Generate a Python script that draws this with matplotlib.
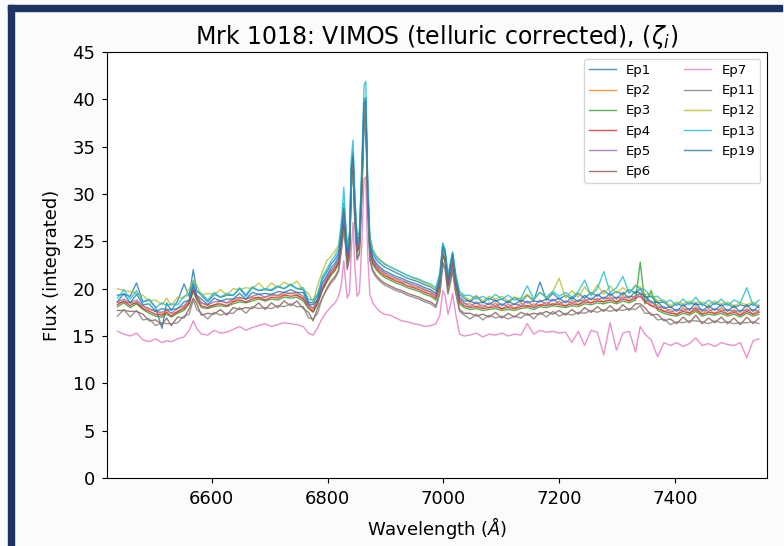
import matplotlib.pyplot as plt
from matplotlib.patches import Rectangle

# wavelength grid (Angstrom)
wave = [6437, 6448, 6459, 6470, 6481, 6492, 6503, 6514, 6522, 6530,
        6541, 6552, 6561, 6568, 6574, 6582, 6593, 6604, 6615, 6626,
        6637, 6648, 6659, 6670, 6681, 6692, 6703, 6714, 6725, 6736,
        6747, 6758, 6767, 6775, 6783, 6791, 6799,
        6806, 6813, 6819, 6824, 6828, 6831, 6834, 6838, 6841, 6844,
        6847, 6851, 6855, 6859, 6863, 6866, 6869, 6873, 6878, 6884, 6890,
        6898, 6908, 6918, 6928, 6938, 6948, 6958, 6968, 6978, 6987,
        6994, 6999, 7003, 7008, 7012, 7016, 7021, 7028, 7036,
        7046, 7057, 7068, 7079, 7090, 7101, 7112, 7123, 7134, 7145,
        7156, 7167, 7178, 7189, 7200, 7211, 7222, 7233, 7244, 7255,
        7266, 7277, 7288, 7299, 7310, 7321, 7332, 7340, 7348, 7359,
        7370, 7381, 7392, 7403, 7414, 7425, 7436, 7447, 7458, 7469,
        7480, 7491, 7502, 7513, 7524, 7535, 7545]

ep1 = [19.3, 19.4, 19.2, 20.6, 18.6, 18.8, 18.0, 15.8, 18.5, 17.7,
       18.7, 20.5, 19.2, 22.0, 19.8, 19.3, 18.6, 19.4, 19.1, 19.3,
       19.3, 20.0, 19.2, 20.1, 19.8, 19.9, 19.8, 20.2, 20.0, 20.4,
       20.0, 19.9, 18.6, 18.5, 19.3, 21.0, 21.8,
       22.6, 23.1, 23.8, 26.4, 29.0, 26.6, 24.0, 25.4, 33.0, 34.5,
       29.4, 25.0, 25.6, 32.0, 40.0, 40.2, 31.5, 25.0, 23.7, 23.1, 22.7,
       22.3, 22.0, 21.7, 21.4, 21.1, 20.9, 20.7, 20.4, 20.2, 19.8,
       21.5, 24.8, 24.0, 21.2, 22.5, 23.8, 21.4, 19.4, 19.0,
       18.6, 19.2, 18.5, 19.0, 18.7, 18.9, 18.5, 19.1, 18.6, 19.3,
       18.7, 20.7, 18.8, 19.5, 18.9, 19.3, 18.9, 19.5, 19.0, 19.6,
       19.2, 19.8, 19.3, 19.7, 19.4, 19.9, 19.5, 20.0, 19.1, 19.2,
       18.5, 18.6, 18.0, 18.4, 18.2, 18.5, 18.3, 18.4, 18.0, 18.5,
       18.2, 18.4, 18.0, 18.3, 18.1, 18.4, 18.0]

ep2 = [18.5, 18.6, 18.5, 18.4, 18.1, 17.8, 17.6, 17.3, 17.7, 17.4,
       17.5, 18.1, 18.7, 20.1, 19.1, 18.5, 18.2, 18.2, 18.7, 18.5,
       18.7, 19.0, 18.9, 19.1, 19.0, 19.1, 19.3, 19.2, 19.4, 19.5,
       19.4, 19.0, 18.3, 17.9, 18.7, 20.1, 21.0,
       21.8, 22.3, 23.0, 25.2, 27.5, 25.7, 23.2, 24.5, 31.6, 33.4,
       28.2, 24.2, 24.8, 30.6, 38.7, 39.0, 30.2, 24.2, 23.0, 22.4, 22.0,
       21.6, 21.2, 21.0, 20.7, 20.6, 20.2, 20.1, 19.8, 19.6, 19.2,
       20.6, 23.7, 23.1, 20.6, 21.7, 23.0, 20.8, 18.8, 18.4,
       18.4, 18.1, 18.3, 18.0, 18.5, 17.8, 18.4, 17.9, 18.5, 18.1,
       18.4, 18.2, 18.6, 18.2, 18.7, 18.1, 18.8, 18.3, 18.9, 18.5,
       19.0, 18.6, 19.2, 18.5, 19.3, 18.7, 19.3, 19.4, 19.0, 18.2,
       18.3, 17.6, 17.8, 17.2, 18.0, 17.4, 18.1, 17.3, 17.9, 17.3,
       18.0, 17.3, 17.8, 17.2, 17.9, 17.3, 17.8]

ep3 = [18.1, 18.5, 18.0, 18.4, 17.8, 17.4, 17.1, 17.0, 17.3, 17.0,
       17.4, 17.7, 18.4, 19.7, 18.8, 18.0, 17.9, 18.1, 18.2, 18.1,
       18.4, 18.6, 18.5, 18.7, 18.9, 18.7, 18.9, 18.8, 19.1, 19.0,
       19.1, 18.7, 17.9, 17.5, 18.4, 19.8, 20.7,
       21.4, 21.9, 22.6, 24.8, 27.3, 25.3, 22.8, 24.0, 31.3, 33.2,
       27.8, 23.8, 24.4, 30.3, 38.6, 38.9, 29.8, 23.8, 22.6, 22.0, 21.6,
       21.2, 20.9, 20.6, 20.4, 20.1, 19.9, 19.7, 19.4, 19.2, 18.8,
       20.3, 23.5, 22.8, 20.2, 21.4, 22.8, 20.4, 18.4, 18.0,
       17.8, 17.9, 17.7, 17.8, 17.9, 17.7, 17.8, 17.7, 17.9, 18.0,
       17.8, 18.1, 18.0, 18.2, 18.1, 18.0, 18.2, 18.1, 18.4, 18.3,
       18.5, 18.4, 18.6, 18.4, 18.7, 18.5, 18.8, 22.8, 18.4, 19.8,
       17.7, 17.4, 17.2, 17.1, 17.4, 17.2, 17.6, 17.1, 17.3, 17.2,
       17.4, 17.1, 17.3, 17.0, 17.4, 17.1, 17.3]

ep4 = [18.3, 18.7, 18.2, 18.6, 17.9, 17.6, 17.3, 17.2, 17.5, 17.1,
       17.6, 17.9, 18.5, 19.9, 19.0, 18.2, 18.0, 18.3, 18.4, 18.2,
       18.6, 18.8, 18.6, 18.9, 19.1, 18.8, 19.1, 19.0, 19.3, 19.2,
       19.3, 18.9, 18.1, 17.6, 18.6, 19.9, 20.9,
       21.6, 22.1, 22.8, 25.0, 27.2, 25.5, 23.0, 24.2, 31.5, 33.3,
       28.0, 24.0, 24.6, 30.5, 38.6, 38.9, 30.0, 24.0, 22.8, 22.2, 21.8,
       21.4, 21.1, 20.8, 20.6, 20.3, 20.1, 19.9, 19.6, 19.4, 19.0,
       20.5, 23.6, 23.0, 20.4, 21.6, 22.9, 20.6, 18.6, 18.2,
       18.0, 18.1, 17.9, 18.0, 18.1, 17.9, 18.0, 17.9, 18.1, 18.2,
       18.0, 18.3, 18.2, 18.4, 18.3, 18.2, 18.4, 18.3, 18.6, 18.5,
       18.7, 18.6, 18.8, 18.6, 18.9, 18.7, 19.0, 19.2, 18.6, 18.2,
       17.9, 17.6, 17.4, 17.3, 17.6, 17.4, 17.8, 17.3, 17.5, 17.4,
       17.6, 17.3, 17.5, 17.2, 17.6, 17.3, 17.5]

ep5 = [18.6, 18.9, 18.5, 18.8, 18.2, 17.9, 17.6, 17.5, 17.8, 17.4,
       17.9, 18.2, 18.8, 20.2, 19.3, 18.5, 18.3, 18.6, 18.7, 18.5,
       18.9, 19.1, 18.9, 19.2, 19.4, 19.1, 19.4, 19.3, 19.6, 19.5,
       19.6, 19.2, 18.4, 17.9, 18.9, 20.2, 21.2,
       21.9, 22.4, 23.1, 25.4, 27.8, 25.8, 23.3, 24.6, 31.8, 33.5,
       28.3, 24.3, 24.9, 30.8, 38.9, 39.2, 30.3, 24.3, 23.1, 22.5, 22.1,
       21.7, 21.4, 21.1, 20.9, 20.6, 20.4, 20.2, 19.9, 19.7, 19.3,
       20.8, 23.9, 23.3, 20.7, 21.9, 23.2, 20.9, 18.9, 18.5,
       18.1, 18.6, 18.0, 18.5, 18.2, 18.4, 18.1, 18.4, 18.2, 18.7,
       18.1, 18.8, 18.3, 18.9, 18.4, 18.7, 18.5, 18.8, 18.7, 19.0,
       18.8, 19.1, 18.9, 19.1, 19.0, 19.2, 19.1, 19.5, 18.7, 18.7,
       18.0, 18.1, 17.5, 17.8, 17.7, 17.9, 17.9, 17.8, 17.6, 17.9,
       17.7, 17.8, 17.6, 17.7, 17.7, 17.8, 17.6]

ep6 = [17.7, 17.7, 17.6, 17.6, 17.3, 16.6, 16.7, 16.2, 16.9, 16.1,
       17.0, 16.9, 17.9, 19.0, 18.4, 17.2, 17.4, 17.3, 17.8, 17.2,
       18.0, 17.8, 18.0, 17.9, 18.5, 17.8, 18.5, 18.0, 18.7, 18.2,
       18.7, 17.9, 17.5, 16.6, 18.0, 19.0, 20.1,
       20.8, 21.3, 22.0, 24.3, 26.5, 24.7, 22.2, 23.4, 30.8, 32.5,
       27.2, 23.2, 23.8, 29.7, 37.7, 38.0, 29.2, 23.2, 22.0, 21.4, 21.0,
       20.6, 20.3, 20.0, 19.8, 19.5, 19.3, 19.1, 18.8, 18.6, 18.2,
       19.7, 22.8, 22.2, 19.6, 20.8, 22.1, 19.8, 17.8, 17.4,
       17.4, 17.1, 17.3, 17.0, 17.5, 16.9, 17.4, 17.0, 17.5, 17.2,
       17.4, 17.3, 17.6, 17.3, 17.7, 17.2, 17.8, 17.3, 18.0, 17.5,
       18.1, 17.6, 18.2, 17.6, 18.3, 17.7, 18.4, 18.4, 18.0, 17.2,
       17.3, 16.6, 16.8, 16.3, 17.0, 16.4, 17.2, 16.3, 16.9, 16.4,
       17.0, 16.3, 16.9, 16.2, 17.0, 16.3, 16.9]

ep7 = [15.5, 15.2, 15.0, 15.3, 14.6, 14.4, 14.7, 14.3, 14.5, 14.4,
       14.7, 14.9, 15.6, 16.6, 15.8, 15.2, 15.1, 15.6, 15.3, 15.4,
       15.7, 16.0, 15.6, 15.9, 16.1, 16.3, 16.0, 16.2, 16.4, 16.3,
       16.2, 16.0, 15.3, 15.1, 15.9, 16.9, 17.6,
       18.1, 18.5, 19.2, 20.5, 23.0, 20.8, 19.0, 19.6, 24.0, 27.0,
       22.5, 19.2, 19.6, 24.5, 31.6, 31.8, 24.0, 19.4, 18.5, 18.0, 17.6,
       17.3, 17.2, 16.9, 16.6, 16.5, 16.3, 16.2, 16.0, 16.1, 16.3,
       17.2, 19.8, 19.3, 17.3, 18.2, 19.5, 17.4, 15.2, 15.0,
       15.1, 15.3, 14.9, 15.2, 15.1, 15.3, 15.0, 15.2, 15.1, 16.3,
       15.2, 15.6, 15.4, 15.5, 15.3, 15.4, 14.3, 15.5, 14.0, 15.6,
       15.4, 13.0, 16.4, 13.5, 15.3, 15.5, 13.3, 16.0, 15.2, 14.6,
       12.8, 14.3, 14.0, 14.3, 13.9, 14.2, 14.8, 14.0, 14.2, 13.9,
       14.3, 14.1, 14.0, 14.3, 12.7, 14.5, 14.7]

ep11 = [17.1, 17.8, 17.0, 17.7, 16.7, 16.8, 16.1, 16.4, 16.3, 16.3,
        16.4, 17.1, 17.3, 18.8, 17.8, 17.4, 16.8, 17.5, 17.2, 17.4,
        17.4, 18.0, 17.4, 18.1, 17.9, 18.0, 17.9, 18.2, 18.1, 18.4,
        18.1, 18.1, 16.9, 16.8, 17.4, 19.1, 19.9,
        20.6, 21.1, 21.8, 24.0, 26.2, 24.5, 22.0, 23.2, 30.5, 32.2,
        27.0, 23.0, 23.6, 29.5, 37.3, 37.6, 29.0, 23.0, 21.8, 21.2, 20.8,
        20.4, 20.1, 19.8, 19.6, 19.3, 19.1, 18.9, 18.6, 18.4, 18.0,
        19.5, 22.5, 22.0, 19.4, 20.6, 21.8, 19.6, 17.6, 17.2,
        16.8, 17.3, 16.7, 17.2, 16.9, 17.1, 16.8, 17.1, 16.9, 17.4,
        16.8, 17.5, 17.0, 17.6, 17.1, 17.4, 17.2, 17.5, 17.4, 17.7,
        17.5, 17.8, 17.6, 17.8, 17.7, 17.9, 17.8, 18.2, 17.4, 17.4,
        16.7, 16.8, 16.2, 16.5, 16.4, 16.6, 16.6, 16.5, 16.3, 16.6,
        16.4, 16.5, 16.3, 16.4, 16.4, 16.5, 16.3]

ep12 = [20.0, 19.8, 19.7, 19.5, 19.3, 18.7, 18.8, 18.3, 19.0, 18.2,
        19.1, 19.0, 20.0, 20.9, 20.4, 19.3, 19.5, 19.4, 19.9, 19.3,
        20.0, 19.9, 20.1, 20.0, 20.6, 19.9, 20.6, 20.1, 20.7, 20.3,
        20.8, 19.9, 19.5, 18.6, 20.4, 21.8, 23.0,
        23.4, 24.0, 24.6, 26.8, 28.8, 26.8, 24.5, 25.8, 32.8, 33.8,
        29.6, 25.6, 26.1, 32.0, 39.2, 39.5, 31.4, 25.5, 24.2, 23.5, 23.1,
        22.7, 22.3, 22.0, 21.7, 21.4, 21.1, 20.9, 20.6, 20.3, 19.9,
        21.2, 24.2, 23.6, 21.2, 22.4, 23.4, 21.4, 19.5, 19.2,
        18.8, 19.3, 18.7, 19.2, 18.9, 19.2, 18.7, 19.1, 18.9, 19.4,
        18.8, 19.6, 19.0, 19.7, 21.1, 19.0, 19.8, 19.1, 20.2, 19.3,
        20.4, 19.4, 20.3, 19.5, 20.1, 19.6, 20.4, 20.2, 19.4, 19.4,
        18.7, 18.8, 18.2, 18.6, 18.4, 18.7, 18.5, 18.6, 18.3, 18.7,
        18.4, 18.6, 18.2, 18.5, 18.3, 18.6, 18.2]

ep13 = [19.0, 19.9, 18.9, 19.8, 18.6, 18.9, 18.0, 18.5, 18.2, 18.4,
        18.3, 19.2, 19.3, 20.8, 19.7, 19.5, 18.8, 19.6, 19.1, 19.5,
        19.3, 20.1, 19.4, 20.2, 19.8, 20.0, 19.9, 20.3, 20.0, 20.5,
        20.0, 20.1, 18.9, 18.8, 19.5, 21.3, 22.1,
        22.9, 23.5, 24.3, 27.2, 30.7, 27.2, 24.4, 26.0, 33.8, 35.7,
        30.0, 25.4, 26.0, 33.0, 41.5, 41.9, 32.5, 25.5, 24.0, 23.4, 23.0,
        22.6, 22.3, 22.0, 21.7, 21.4, 21.2, 21.0, 20.7, 20.5, 20.1,
        21.7, 24.7, 24.2, 21.4, 22.8, 23.9, 21.7, 19.7, 19.3,
        19.3, 18.9, 19.2, 18.8, 19.4, 18.9, 19.3, 18.8, 19.0, 20.3,
        18.9, 19.6, 19.1, 19.7, 19.2, 19.6, 19.1, 19.7, 20.9, 19.3,
        20.0, 21.8, 19.6, 20.1, 21.3, 19.5, 20.3, 20.0, 19.9, 19.1,
        19.2, 18.5, 18.8, 18.2, 18.9, 18.3, 19.1, 18.2, 18.8, 18.3,
        18.9, 18.2, 18.8, 18.5, 20.1, 18.2, 18.8]

ep19 = [18.6, 19.5, 18.5, 19.4, 18.3, 18.4, 17.6, 17.9, 17.8, 17.8,
        17.9, 18.6, 18.8, 20.5, 19.3, 18.9, 18.3, 19.0, 18.7, 18.9,
        18.9, 19.5, 18.9, 19.6, 19.4, 19.5, 19.4, 19.7, 19.6, 19.9,
        19.6, 19.6, 18.4, 18.3, 18.9, 20.6, 21.4,
        22.2, 22.7, 23.4, 25.9, 28.5, 26.1, 23.6, 25.0, 32.6, 34.0,
        29.0, 24.6, 25.2, 31.6, 39.6, 39.8, 31.0, 24.6, 23.3, 22.7, 22.3,
        21.9, 21.6, 21.3, 21.1, 20.8, 20.6, 20.4, 20.1, 19.9, 19.5,
        21.1, 24.4, 23.7, 20.9, 22.2, 23.6, 21.1, 19.1, 18.7,
        18.7, 18.4, 18.6, 18.3, 18.8, 18.2, 18.7, 18.3, 18.8, 18.5,
        18.7, 18.6, 18.9, 18.7, 19.0, 18.5, 19.1, 18.6, 19.3, 18.8,
        19.4, 18.9, 19.5, 18.9, 19.6, 19.0, 19.7, 19.5, 19.3, 18.5,
        18.6, 17.9, 18.1, 17.6, 18.3, 17.7, 18.5, 17.6, 18.2, 17.7,
        18.3, 17.6, 18.2, 17.5, 18.3, 17.6, 18.2]

labels = ['Ep1', 'Ep2', 'Ep3', 'Ep4', 'Ep5', 'Ep6', 'Ep7',
          'Ep11', 'Ep12', 'Ep13', 'Ep19']
spectra = [ep1, ep2, ep3, ep4, ep5, ep6, ep7, ep11, ep12, ep13, ep19]

fig = plt.figure(figsize=(7.84, 5.46), dpi=100, facecolor='#fbfbfb')
navy = '#1c3461'
fig.add_artist(Rectangle((8 / 784, 0), 6 / 784, 1 - 5 / 546,
                         transform=fig.transFigure, color=navy, zorder=10))
fig.add_artist(Rectangle((8 / 784, 1 - 11 / 546), 774 / 784, 6 / 546,
                         transform=fig.transFigure, color=navy, zorder=10))

ax = fig.add_axes([107 / 784, 1 - 478 / 546, 660 / 784, 426 / 546])
for spec, lab in zip(spectra, labels):
    ax.plot(wave, spec, lw=1, alpha=0.8, label=lab)

ax.set_xlim(6419, 7559)
ax.set_ylim(0, 45)
ax.set_yticks(range(0, 46, 5))
ax.tick_params(labelsize=13, pad=5)
ax.set_xlabel(r'Wavelength ($\AA$)', fontsize=13, labelpad=5)
ax.set_ylabel('Flux (integrated)', fontsize=13, labelpad=8)
ax.set_title(r'Mrk 1018: VIMOS (telluric corrected), ($\zeta_i$)', fontsize=17)
ax.legend(ncol=2, fontsize=9.5, loc='upper right', labelspacing=0.55,
          columnspacing=2.5)

fig.savefig('out.png', dpi=100, facecolor=fig.get_facecolor())
